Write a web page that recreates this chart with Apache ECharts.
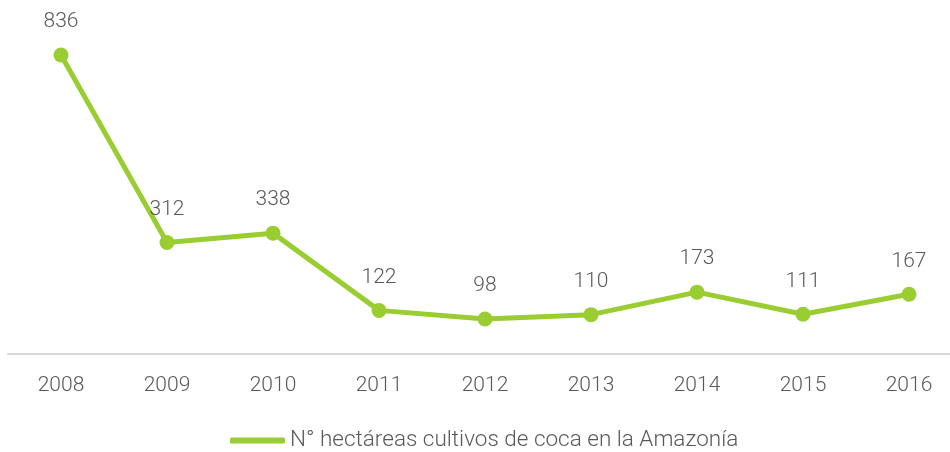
<!DOCTYPE html>
<html><head><meta charset="utf-8">
<script src="https://cdn.jsdelivr.net/npm/echarts@6/dist/echarts.min.js"></script>
<style>html,body{margin:0;padding:0;background:#fff}#c{width:950px;height:452px}</style>
</head><body><div id="c"></div>
<script>
const categories = ['2008','2009','2010','2011','2012','2013','2014','2015','2016'];
const values = [836, 312, 338, 122, 98, 110, 173, 111, 167];
const seriesName = 'N° hectáreas cultivos de coca en la Amazonía';
const chart = echarts.init(document.getElementById('c'));
const font = 'Roboto, "Liberation Sans", Arial, sans-serif';
chart.setOption({
  animation: false,
  textStyle: {fontFamily: font},
  grid: {left: 8, width: 954, top: 0, bottom: 98, outerBoundsMode: 'none', containLabel: false},
  xAxis: {
    type: 'category', data: categories, boundaryGap: true,
    axisLine: {lineStyle: {color: '#d9d9d9', width: 2}},
    axisTick: {show: false},
    axisLabel: {color: '#595959', fontSize: 21, fontWeight: 300, margin: 21, fontFamily: font}
  },
  yAxis: {type: 'value', min: 0, max: 990, show: false, splitLine: {show: false}},
  legend: {
    left: 225, top: 424, icon: 'roundRect', itemWidth: 55, itemHeight: 6, itemGap: 10,
    textStyle: {color: '#595959', fontSize: 22.5, fontWeight: 300, fontFamily: font},
    data: [seriesName]
  },
  series: [{
    name: seriesName, type: 'line', data: values,
    symbol: 'circle', symbolSize: 15,
    lineStyle: {color: '#9acd32', width: 5},
    itemStyle: {color: '#9acd32'},
    label: {show: true, position: 'top', distance: 15, color: '#595959', fontSize: 21, fontWeight: 300, fontFamily: font}
  }]
});
</script></body></html>
